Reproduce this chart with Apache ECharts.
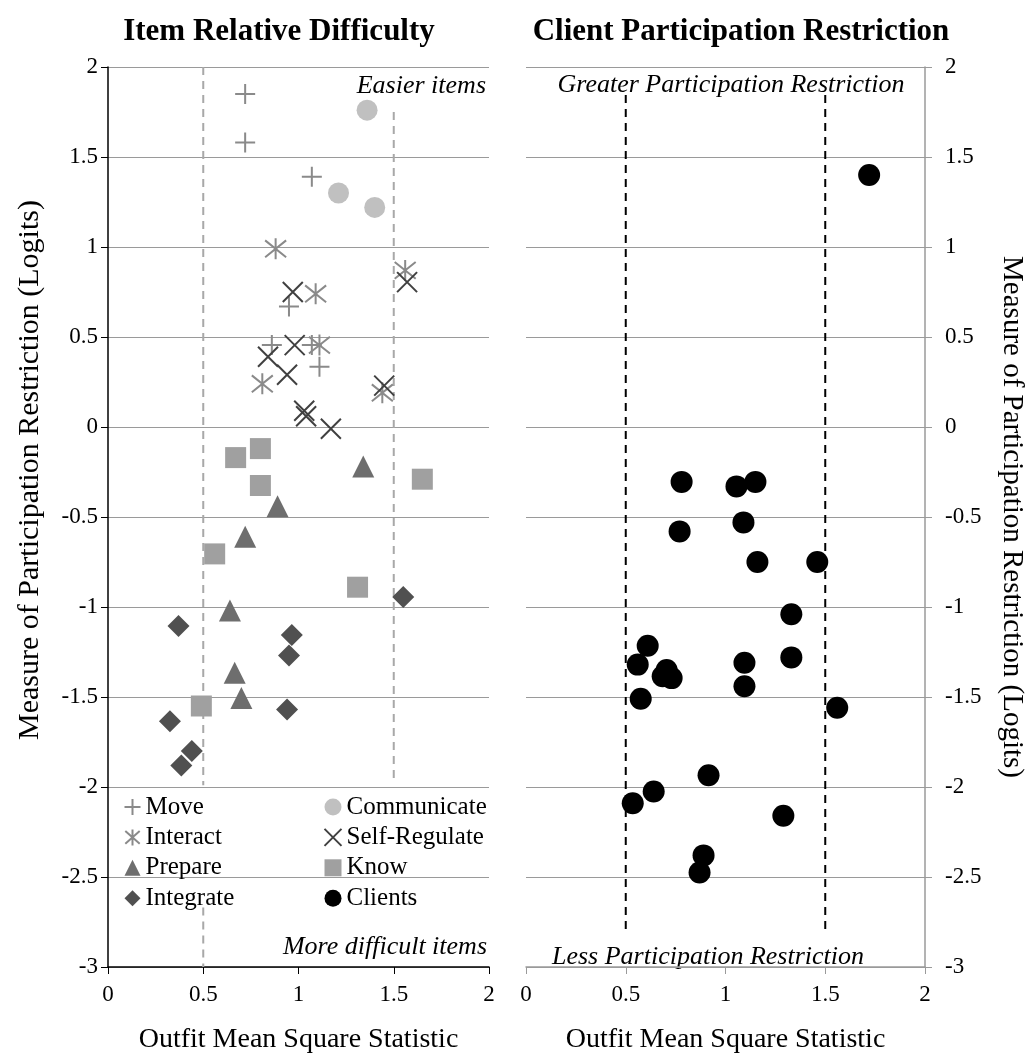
<!DOCTYPE html>
<html><head><meta charset="utf-8">
<script src="https://cdn.jsdelivr.net/npm/echarts@6/dist/echarts.min.js"></script>
<style>html,body{margin:0;padding:0;background:#fff}#c{width:1032px;height:1059px}</style>
</head><body><div id="c"></div>
<script>
// ---- data (x = Outfit mean square, y = measure in logits) ----
const move = [[0.72,1.85],[0.72,1.58],[1.07,1.39],[0.95,0.67],[0.86,0.455],[1.07,0.455],[1.11,0.335]];
const communicate = [[1.36,1.76],[1.21,1.30],[1.40,1.22]];
const interact = [[0.88,0.99],[1.09,0.74],[1.56,0.87],[1.11,0.455],[0.81,0.24],[1.44,0.19]];
const selfRegulate = [[0.97,0.75],[1.57,0.805],[0.98,0.455],[0.84,0.39],[0.94,0.29],[1.45,0.23],[1.03,0.09],[1.04,0.06],[1.17,-0.01]];
const prepare = [[1.34,-0.22],[0.89,-0.44],[0.72,-0.61],[0.64,-1.02],[0.665,-1.365],[0.70,-1.505]];
const know = [[0.67,-0.17],[0.80,-0.12],[0.80,-0.325],[1.65,-0.29],[0.56,-0.705],[1.31,-0.89],[0.49,-1.55]];
const integrate = [[1.55,-0.945],[0.37,-1.105],[0.965,-1.155],[0.95,-1.27],[0.94,-1.57],[0.325,-1.635],[0.44,-1.80],[0.385,-1.88]];
const clients = [[1.72,1.40],[0.78,-0.305],[1.055,-0.33],[1.15,-0.305],[1.09,-0.53],[0.77,-0.58],[1.16,-0.75],[1.46,-0.75],
  [1.33,-1.04],[0.61,-1.215],[1.33,-1.28],[0.56,-1.32],[0.705,-1.35],[0.685,-1.385],[0.73,-1.395],[1.095,-1.31],[1.095,-1.44],
  [0.575,-1.51],[1.56,-1.56],[0.915,-1.935],[0.64,-2.025],[0.535,-2.09],[1.29,-2.16],[0.89,-2.38],[0.87,-2.475]];
// reference (cut-off) lines: [panel, x, yFrom, yTo]
const refLines = [[0,0.5,2,-1.99],[0,0.5,-2.67,-3],[0,1.5,1.75,-1.97],[1,0.5,1.845,-2.81],[1,1.5,1.845,-2.81]];
const xMin = 0, xMax = 2, xStep = 0.5;
const yMin = -3, yMax = 2, yStep = 0.5;
const titles = ['Item Relative Difficulty','Client Participation Restriction'];
const xName = 'Outfit Mean Square Statistic';
const yName = 'Measure of Participation Restriction (Logits)';

const FONT = "'Liberation Serif','Times New Roman',serif";
const chart = echarts.init(document.getElementById('c'));

function strokeSeries(name, data, path, color, size){
  return {name, type:'scatter', xAxisIndex:0, yAxisIndex:0, data, symbol:path, symbolSize:size,
    itemStyle:{color:'none', borderColor:color, borderWidth:2, opacity:1}, z:3};
}
function fillSeries(name, data, sym, color, size, axis){
  return {name, type:'scatter', xAxisIndex:axis, yAxisIndex:axis, data, symbol:sym, symbolSize:size,
    itemStyle:{color, opacity:1}, z:3};
}
const series = [];
refLines.forEach((r,i)=>{
  series.push({type:'line', xAxisIndex:r[0], yAxisIndex:r[0], data:[[r[1],r[2]],[r[1],r[3]]], symbol:'none', silent:true, z:1,
    lineStyle:{color: r[0]===0 ? '#a8a8a8' : '#000', width:2, type:[8,6]}});
});
series.push(strokeSeries('Move', move, 'path://M10,0L10,20M0,10L20,10', '#8a8a8a', 20));
series.push(fillSeries('Communicate', communicate, 'circle', '#c0c0c0', 21, 0));
series.push(strokeSeries('Interact', interact, 'path://M10,0L10,20M1,2L19,18M19,2L1,18', '#8a8a8a', 21));
series.push(strokeSeries('Self-Regulate', selfRegulate, 'path://M0,0L20,20M20,0L0,20', '#404040', 20));
series.push(fillSeries('Prepare', prepare, 'triangle', '#6e6e6e', 22, 0));
series.push(fillSeries('Know', know, 'rect', '#a0a0a0', 21, 0));
series.push(fillSeries('Integrate', integrate, 'diamond', '#505050', 22, 0));
series.push(fillSeries('Clients', clients, 'circle', '#000000', 22, 1));

function xAx(grid, lineColor){
  return {gridIndex:grid, type:'value', min:xMin, max:xMax, interval:xStep,
    axisLine:{show:true, onZero:false, lineStyle:{color:lineColor, width:1.5}},
    axisTick:{show:true, length:7, lineStyle:{color:lineColor}},
    axisLabel:{fontFamily:FONT, fontSize:23, color:'#000', margin:16},
    splitLine:{show:false},
    name:xName, nameLocation:'middle', nameGap:59,
    nameTextStyle:{fontFamily:FONT, fontSize:28, color:'#000'}};
}
function yAx(grid, pos, lineColor, margin, named){
  return {gridIndex:grid, type:'value', position:pos, min:yMin, max:yMax, interval:yStep,
    axisLine:{show:true, onZero:false, lineStyle:{color:lineColor, width:1.5}},
    axisTick:{show:true, length:7, lineStyle:{color:lineColor}},
    axisLabel:{fontFamily:FONT, fontSize:23, color:'#000', margin:margin},
    splitLine:{show:true, lineStyle:{color:'#9a9a9a', width:1.2}},
    name: named ? yName : '', nameLocation:'middle', nameRotate:-90, nameGap:72,
    nameTextStyle:{fontFamily:FONT, fontSize:29, color:'#000'}};
}
const legendText = {fontFamily:FONT, fontSize:25, color:'#000', lineHeight:30};
const option = {
  animation:false,
  backgroundColor:'#fff',
  title:[
    {text:titles[0], left:279, top:16, textAlign:'center', padding:0,
     textStyle:{fontFamily:FONT, fontWeight:'bold', fontSize:31, color:'#000'}},
    {text:titles[1], left:741, top:16, textAlign:'center', padding:0,
     textStyle:{fontFamily:FONT, fontWeight:'bold', fontSize:31, color:'#000'}}
  ],
  grid:[{left:108, top:67, width:381, height:905},{left:526, top:67, width:399, height:905}],
  xAxis:[xAx(0,'#000'), xAx(1,'#9a9a9a')],
  yAxis:[yAx(0,'left','#000',10,false), yAx(1,'right','#9a9a9a',20,true)],
  legend:[
    {orient:'vertical', left:122, top:792, padding:0, itemGap:0.4, itemWidth:16, itemHeight:16, itemTextGap:5,
     selectedMode:false, textStyle:legendText, data:['Move','Interact','Prepare','Integrate']},
    {orient:'vertical', left:322, top:792, padding:0, itemGap:0.4, itemWidth:17, itemHeight:17, itemTextGap:4,
     selectedMode:false, textStyle:legendText, data:['Communicate','Self-Regulate','Know','Clients']}
  ],
  graphic:[
    {type:'text', x:30, y:470, rotation:Math.PI/2, style:{text:yName, font:"30px 'Liberation Serif'", fill:'#000', align:'center', textAlign:'center', verticalAlign:'middle', textVerticalAlign:'middle'}},
    {type:'text', x:486, y:86, style:{text:'Easier items', font:"italic 26px 'Liberation Serif'", fill:'#000', align:'right', textAlign:'right', verticalAlign:'middle', textVerticalAlign:'middle'}},
    {type:'text', x:487, y:947, style:{text:'More difficult items', font:"italic 26px 'Liberation Serif'", fill:'#000', align:'right', textAlign:'right', verticalAlign:'middle', textVerticalAlign:'middle'}},
    {type:'text', x:731, y:85, style:{text:'Greater Participation Restriction', font:"italic 26px 'Liberation Serif'", fill:'#000', align:'center', textAlign:'center', verticalAlign:'middle', textVerticalAlign:'middle'}},
    {type:'text', x:708, y:957, style:{text:'Less Participation Restriction', font:"italic 26px 'Liberation Serif'", fill:'#000', align:'center', textAlign:'center', verticalAlign:'middle', textVerticalAlign:'middle'}}
  ],
  series
};
chart.setOption(option);
</script></body></html>
